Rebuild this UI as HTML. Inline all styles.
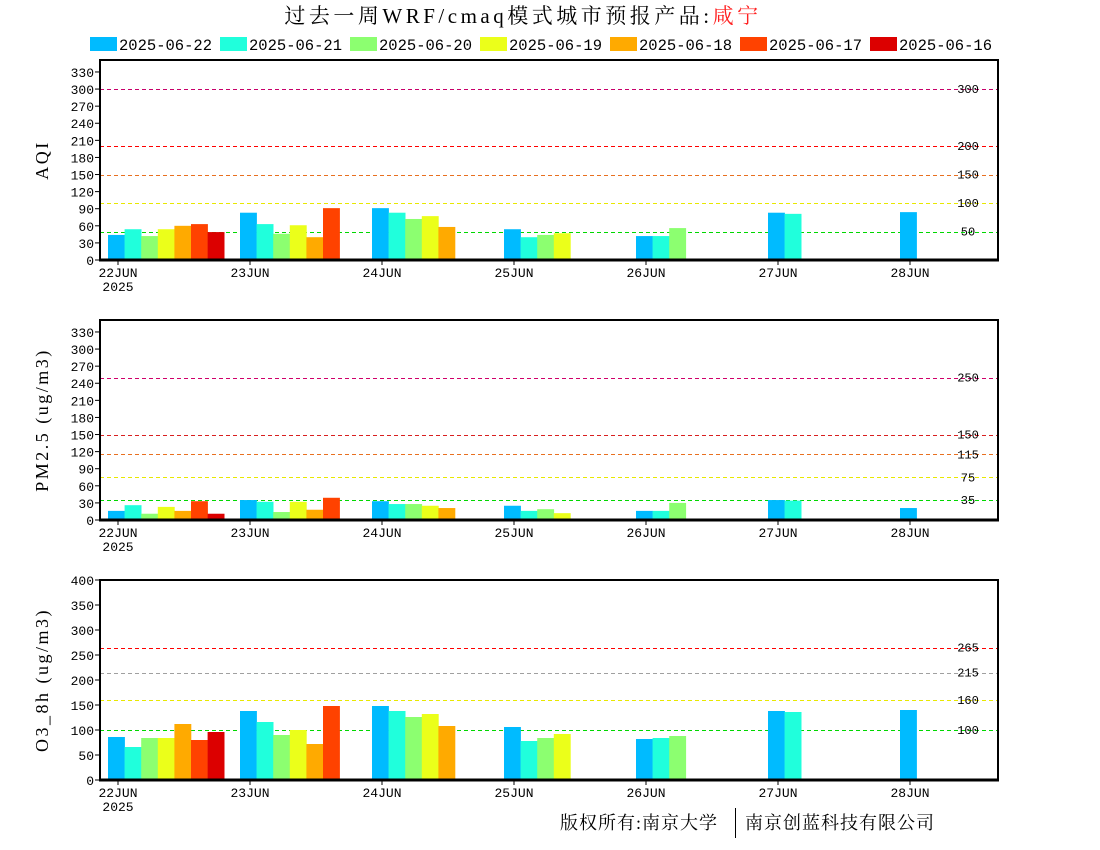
<!DOCTYPE html>
<html><head><meta charset="utf-8">
<style>
body{margin:0;background:#fff;width:1100px;height:850px;overflow:hidden}
svg{display:block}
text{font-family:"Liberation Mono","Noto Sans CJK SC",monospace}
</style></head><body>
<svg id="chart" width="1100" height="850" xmlns="http://www.w3.org/2000/svg">
<text x="523" y="23" text-anchor="middle" font-size="21" letter-spacing="3.5" style="font-family:'Liberation Serif','Noto Serif CJK SC',serif">过去一周WRF/cmaq模式城市预报产品:<tspan fill="#ff2020">咸宁</tspan></text>
<g id="legend"></g>
<g id="plots"></g>
<text x="560" y="829" font-size="18" letter-spacing="1" style="font-family:'Liberation Serif','Noto Serif CJK SC',serif">版权所有:南京大学</text>
<line x1="735.5" y1="808" x2="735.5" y2="838" stroke="#000" stroke-width="1"/>
<text x="745" y="829" font-size="18" letter-spacing="1" style="font-family:'Liberation Serif','Noto Serif CJK SC',serif">南京创蓝科技有限公司</text>
</svg>
<script>
const seriesNames=["2025-06-22","2025-06-21","2025-06-20","2025-06-19","2025-06-18","2025-06-17","2025-06-16"];
const seriesColors=["#00bbff","#20ffdc","#8cff70","#ebff1a","#ffaa00","#ff4200","#dc0000"];
const dayLabels=["22JUN","23JUN","24JUN","25JUN","26JUN","27JUN","28JUN"];
// values[series][day]; null = missing
const aqiValues=[
 [44,83,91,54,42,83,84],
 [54,63,83,40,42,81,null],
 [42,46,72,44,56,null,null],
 [54,61,77,47,null,null,null],
 [60,40,58,null,null,null,null],
 [63,91,null,null,null,null,null],
 [49,null,null,null,null,null,null]];
const pmValues=[
 [16,35,33,25,16,35,21],
 [26,32,28,16,16,34,null],
 [11,14,28,19,30,null,null],
 [23,32,25,12,null,null,null],
 [16,18,21,null,null,null,null],
 [33,39,null,null,null,null,null],
 [11,null,null,null,null,null,null]];
const o3Values=[
 [86,138,148,106,82,138,140],
 [66,116,138,78,84,136,null],
 [84,90,126,84,88,null,null],
 [84,100,132,92,null,null,null],
 [112,72,108,null,null,null,null],
 [80,148,null,null,null,null,null],
 [96,null,null,null,null,null,null]];
const aqiTicks=[0,30,60,90,120,150,180,210,240,270,300,330];
const pmTicks=[0,30,60,90,120,150,180,210,240,270,300,330];
const o3Ticks=[0,50,100,150,200,250,300,350,400];
const aqiRefs=[300,200,150,100,50];
const pmRefs=[250,150,115,75,35];
const o3Refs=[265,215,160,100];
const aqiRefColors=["#c8006a","#ff0000","#e87020","#e8e800","#00d800"];
const pmRefColors=["#d0006a","#d82020","#e87020","#e8e800","#00d800"];
const o3RefColors=["#ff0000","#a0a0a0","#e8e800","#00d800"];

const NS="http://www.w3.org/2000/svg";
function mk(tag,attrs,parent){const e=document.createElementNS(NS,tag);for(const k in attrs)e.setAttribute(k,attrs[k]);parent.appendChild(e);return e;}
const legend=document.getElementById('legend');
seriesNames.forEach((n,i)=>{
  const x=90+i*130;
  const r=mk('rect',{x:x,y:37,width:27,height:14,fill:seriesColors[i]},legend);
  
  
  const t=mk('text',{x:x+29,y:50,'font-size':15.5},legend);
  
  
  t.textContent=n;
});
const L=100,R=998,W=R-L;
function plot(name,top,bottom,ymax,ticks,values,refs,refColors,title){
  const g=mk('g',{},document.getElementById('plots'));
  
  
  const y=v=>bottom-v/ymax*(bottom-top);
  const dayX=d=>108+d*132;
  const bw=16.6;
  refs.forEach((v,i)=>{
    const yy=Math.round(y(v))+0.5;
    const ln=mk('line',{x1:L,x2:R,y1:yy,y2:yy,stroke:refColors[i],'stroke-width':1,'stroke-dasharray':'4,3'},g);
    
    
    const t=mk('text',{x:968,y:y(v)+4,'font-size':12,'text-anchor':'middle'},g);
    
    
    t.textContent=v;
  });
  values.forEach((ser,s)=>ser.forEach((v,d)=>{
    if(v==null)return;
    const b=mk('rect',{x:dayX(d)+s*bw,y:y(v),width:bw+0.3,height:bottom-y(v),fill:seriesColors[s]},g);
    
    
  }));
  const fr=mk('rect',{x:L,y:top,width:W,height:bottom-top,fill:'none',stroke:'#000','stroke-width':2},g);
  
  
  const ax=mk('line',{x1:L-1,x2:R+1,y1:bottom,y2:bottom,stroke:'#000','stroke-width':3},g);
  
  
  ticks.forEach(v=>{
    const tk=mk('line',{x1:L-5,x2:L,y1:y(v),y2:y(v),stroke:'#000','stroke-width':1},g);
    
    
    const t=mk('text',{x:L-6,y:y(v)+5,'font-size':13,'text-anchor':'end'},g);
    
    
    t.textContent=v;
  });
  dayLabels.forEach((lab,d)=>{
    const tx=dayX(d)+10;
    const tk=mk('line',{x1:tx,x2:tx,y1:bottom,y2:bottom+5,stroke:'#000','stroke-width':1},g);
    
    
    const t=mk('text',{x:tx,y:bottom+17,'font-size':13,'text-anchor':'middle'},g);
    
    
    t.textContent=lab;
  });
  const yr=mk('text',{x:118,y:bottom+31,'font-size':13,'text-anchor':'middle'},g);
  
  
  yr.textContent='2025';
  const cy=(top+bottom)/2;
  const yt=mk('text',{x:48,y:cy,'font-size':18,'letter-spacing':2.5,'text-anchor':'middle',transform:'rotate(-90 48 '+cy+')'},g);
  
  
  yt.setAttribute('style',"font-family:'Liberation Serif',serif");
  yt.textContent=title;
}
plot('aqi',60,260,351,aqiTicks,aqiValues,aqiRefs,aqiRefColors,'AQI');
plot('pm25',320,520,351,pmTicks,pmValues,pmRefs,pmRefColors,'PM2.5 (ug/m3)');
plot('o3',580,780,400,o3Ticks,o3Values,o3Refs,o3RefColors,'O3_8h (ug/m3)');
</script>
</body></html>
